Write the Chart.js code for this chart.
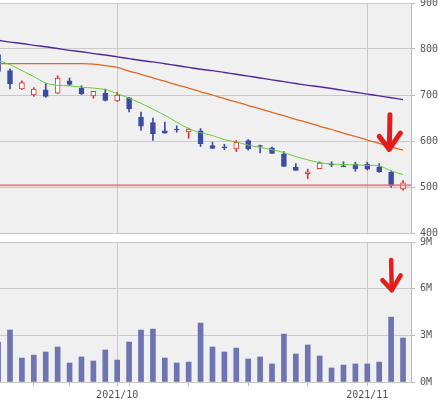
<!DOCTYPE html>
<html>
<head>
<meta charset="utf-8">
<script src="https://cdn.jsdelivr.net/npm/chart.js@4.4.0/dist/chart.umd.min.js"></script>
<style>
  body { margin: 0; background: #fff; }
  #wrap { position: relative; width: 438px; height: 400px; overflow: hidden; }
  canvas { position: absolute; left: 0; }
  #price { top: 0; }
  #volume { top: 230px; }
</style>
</head>
<body>
<div id="wrap">
  <canvas id="price" width="438" height="240"></canvas>
  <canvas id="volume" width="438" height="170"></canvas>
</div>
<script>
// trading days (2021)
const dates = ['9/15','9/16','9/17','9/21','9/22','9/24','9/27','9/28','9/29','9/30',
  '10/1','10/4','10/5','10/6','10/7','10/8','10/11','10/12','10/13','10/14','10/15',
  '10/18','10/19','10/20','10/21','10/22','10/25','10/26','10/27','10/28','10/29',
  '11/1','11/2','11/4','11/5']

const opens  = [788,753,713,700,711,704,731,715,698,704,687,694,652,640,622,625,620,622,590,586,583,601,589,585,572,543,529,540,549,545,550,550,544,532,496]
const highs  = [792,757,731,716,725,742,737,720,708,713,706,695,663,650,641,633,628,627,597,593,601,603,591,587,577,551,539,555,555,555,554,554,551,535,514]
const lows   = [748,713,712,697,695,703,720,701,693,687,686,663,623,601,617,619,606,588,584,581,577,580,574,573,545,536,518,540,544,544,534,537,532,499,493]
const closes = [751,724,727,713,697,737,723,703,708,688,700,670,632,616,617,624,626,594,584,585,597,583,588,573,545,536,533,552,548,544,540,539,533,503,509]

// moving averages
const ma5  = [775,766,753,740,726,721,720,717,715,712,703,693,682,669,656,641,627,618,612,603,598,591,586,581,575,566,559,553,550,549,548,547,546,535,527]
const ma25 = [768,768,768,768,768,768,768,768,767,764,760,752,745,737,730,722,715,707,700,692,685,677,670,662,655,647,640,632,625,617,610,602,595,587,580]
const ma75 = [819,815,812,808,805,801,797,794,790,787,783,779,775,772,768,764,760,756,753,749,745,741,737,733,729,725,721,718,714,710,706,702,698,694,690]

const supportLine = 504

const volumes = [2.57,3.34,1.54,1.73,1.93,2.25,1.22,1.61,1.35,2.06,1.41,2.57,3.34,3.40,1.54,1.22,1.28,3.79,2.25,
  1.93,2.18,1.48,1.61,1.16,3.08,1.80,2.38,1.67,0.90,1.09,1.16,1.16,1.28,4.17,2.83]

const monthLabels = {'10/1': '2021/10', '11/1': '2021/11'}

// week starts and month starts, from the dates
const dayObjs = dates.map(d => { let p = d.split('/'); return new Date(2021, +p[0] - 1, +p[1]) })
const weekTicks = []
const monthTicks = []
for (let i = 1; i < dates.length; i++) {
  if (dayObjs[i].getDay() < dayObjs[i - 1].getDay()) weekTicks.push(i)
  if (dayObjs[i].getMonth() != dayObjs[i - 1].getMonth()) monthTicks.push(i)
}
const allTicks = [...new Set(weekTicks.concat(monthTicks))].sort((a, b) => a - b)

const UP = '#d83434'
const DOWN = '#3b4ba2'
const GRID = '#c9c9c9'
const tickFont = { family: "'DejaVu Sans Mono', monospace", size: 10 }

const bgPlugin = {
  id: 'plotBg',
  beforeDraw(chart) {
    const a = chart.chartArea
    const c = chart.ctx
    c.save()
    c.fillStyle = '#f0f0f0'
    c.fillRect(a.left, a.top, a.right - a.left, a.bottom - a.top)
    c.restore()
  }
}

const arrowPlugin = {
  id: 'arrow',
  afterDatasetsDraw(chart, args, opts) {
    if (!opts.lines) return
    const c = chart.ctx
    const xs = chart.scales.x, ys = chart.scales.y
    c.save()
    c.strokeStyle = '#e41c1c'
    c.lineWidth = opts.width || 5
    c.lineCap = 'round'
    c.lineJoin = 'round'
    opts.lines.forEach(pts => {
      c.beginPath()
      pts.forEach((p, k) => {
        const px = xs.getPixelForValue(p[0]), py = ys.getPixelForValue(p[1])
        if (k == 0) c.moveTo(px, py)
        else c.lineTo(px, py)
      })
      c.stroke()
    })
    c.restore()
  }
}

const isUp = i => closes[i] >= opens[i]

const X_MIN = 0.16, X_MAX = 34.67

function fixX(height) {
  return scale => {
    scale.height = height
    scale.paddingLeft = 0
    scale.paddingRight = 0
  }
}

function fixY(width) {
  return scale => {
    scale.width = width
    scale.paddingTop = 0
    scale.paddingBottom = 0
  }
}

const xCommon = {
  type: 'linear',
  offset: false,
  bounds: 'data',
  min: X_MIN,
  max: X_MAX,
  afterBuildTicks: scale => {
    scale.ticks = allTicks.map(v => ({ value: v }))
    scale.min = X_MIN
    scale.max = X_MAX
  },
}

const monthGrid = ctx => ctx.tick && monthTicks.includes(ctx.tick.value) ? GRID : 'rgba(0,0,0,0)'

// price chart
new Chart(document.getElementById('price'), {
  data: {
    datasets: [
      {
        type: 'line', order: 1,
        data: dates.map((d, i) => ({ x: i, y: ma5[i] })),
        borderColor: '#6acd36', borderWidth: 1, pointRadius: 0, tension: 0.3
      },
      {
        type: 'line', order: 1,
        data: dates.map((d, i) => ({ x: i, y: ma25[i] })),
        borderColor: '#dd6a24', borderWidth: 1.3, pointRadius: 0, tension: 0.3
      },
      {
        type: 'line', order: 1,
        data: dates.map((d, i) => ({ x: i, y: ma75[i] })),
        borderColor: '#52279a', borderWidth: 1.4, pointRadius: 0, tension: 0.3
      },
      {
        type: 'line', order: 2,
        data: [{ x: -1, y: supportLine }, { x: dates.length, y: supportLine }],
        borderColor: 'rgba(228,110,110,0.8)', borderWidth: 2, pointRadius: 0
      },
      {
        type: 'bar', order: 4, grouped: false,
        data: dates.map((d, i) => ({ x: i, y: [lows[i], highs[i]] })),
        backgroundColor: dates.map((d, i) => isUp(i) ? UP : DOWN),
        barThickness: 1, minBarLength: 1
      },
      {
        type: 'bar', order: 3, grouped: false,
        data: dates.map((d, i) => ({ x: i, y: [opens[i], closes[i]] })),
        backgroundColor: dates.map((d, i) => isUp(i) ? '#ffffff' : DOWN),
        borderColor: dates.map((d, i) => isUp(i) ? UP : DOWN),
        borderWidth: 1, borderSkipped: false,
        barThickness: 5, minBarLength: 1
      }
    ]
  },
  options: {
    responsive: false,
    animation: false,
    layout: { padding: { top: 3, bottom: 7, left: 0, right: 0 } },
    plugins: {
      legend: { display: false },
      tooltip: { enabled: false },
      arrow: {
        width: 5,
        lines: [
          [[32.9, 657], [32.88, 625], [32.84, 582]],
          [[32.0, 610], [32.84, 582], [33.77, 617]]
        ]
      }
    },
    scales: {
      x: {
        ...xCommon,
        grid: { drawTicks: false, offset: false, color: monthGrid },
        border: { display: false },
        ticks: { display: false },
        afterFit: fixX(0)
      },
      y: {
        position: 'right',
        min: 400, max: 900,
        afterFit: fixY(27),
        grid: { color: GRID, tickLength: 4, tickColor: '#bbb' },
        border: { color: '#bbb' },
        ticks: { stepSize: 100, padding: 5, color: '#555', font: tickFont }
      }
    }
  },
  plugins: [bgPlugin, arrowPlugin]
})

// volume chart
new Chart(document.getElementById('volume'), {
  type: 'bar',
  data: {
    datasets: [{
      data: dates.map((d, i) => ({ x: i, y: volumes[i] * 1e6 })),
      backgroundColor: '#6c74b2',
      barThickness: 5
    }]
  },
  options: {
    responsive: false,
    animation: false,
    layout: { padding: { top: 12, bottom: 0, left: 0, right: 0 } },
    plugins: {
      legend: { display: false },
      tooltip: { enabled: false },
      arrow: {
        width: 4.5,
        lines: [
          [[33.0, 7.85e6], [33.03, 6.8e6], [33.06, 5.9e6]],
          [[32.27, 6.55e6], [33.06, 5.9e6], [33.8, 6.85e6]]
        ]
      }
    },
    scales: {
      x: {
        ...xCommon,
        grid: { tickLength: 4, tickColor: '#bbb', offset: false, color: monthGrid },
        border: { color: GRID },
        ticks: {
          autoSkip: false, maxRotation: 0, padding: 3,
          color: '#555', font: tickFont,
          callback: v => monthLabels[dates[v]] || ''
        },
        afterFit: fixX(18)
      },
      y: {
        position: 'right',
        min: 0, max: 9e6,
        afterFit: fixY(27),
        grid: { color: GRID, tickLength: 4, tickColor: '#bbb' },
        border: { color: '#bbb' },
        ticks: { stepSize: 3e6, padding: 5, color: '#555', font: tickFont, callback: v => (v / 1e6) + 'M' }
      }
    }
  },
  plugins: [bgPlugin, arrowPlugin]
})
</script>
</body>
</html>
